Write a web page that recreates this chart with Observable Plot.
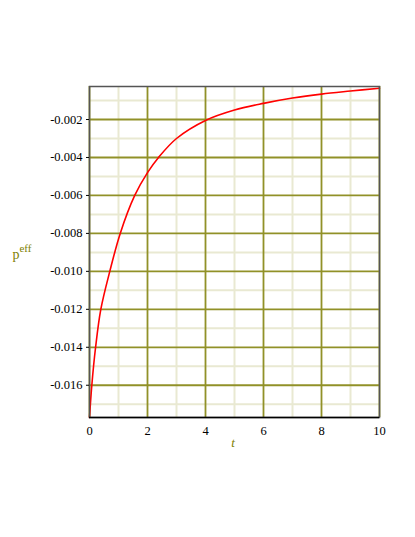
<!DOCTYPE html>
<html>
<head>
<meta charset="utf-8">
<script src="https://cdn.jsdelivr.net/npm/d3@7"></script>
<script src="https://cdn.jsdelivr.net/npm/@observablehq/plot@0.6"></script>
<style>
  html, body { margin: 0; padding: 0; background: #fff; }
  #chart svg { display: block; }
  #chart svg, #chart svg text { font-family: "Liberation Serif", "Times New Roman", "DejaVu Serif", serif !important; }
</style>
</head>
<body>
<div id="chart"></div>
<script>
// Data
const tValues = [0, 0.08, 0.21, 0.39, 0.70, 1.06, 1.56, 2, 2.38, 3, 4, 5, 6, 7, 8, 9, 10];
const pValues = [-0.0177, -0.016, -0.014, -0.012, -0.010, -0.008, -0.006, -0.0048, -0.004, -0.0030, -0.00205, -0.0015, -0.00115, -0.00087, -0.00066, -0.0005, -0.00035];

const xMajorTicks = [0, 2, 4, 6, 8, 10];
const xMinorTicks = [1, 3, 5, 7, 9];
const yMajorTicks = [-0.016, -0.014, -0.012, -0.010, -0.008, -0.006, -0.004, -0.002];
const yMinorTicks = [-0.017, -0.015, -0.013, -0.011, -0.009, -0.007, -0.005, -0.003, -0.001];
const yDomain = [-0.0177, -0.00026];
const xDomain = [0, 10];

const data = tValues.map((t, i) => ({t, p: pValues[i]}));

const olive = "#919128";
const minor = "#e9e9d2";

const chart = Plot.plot({
  width: 415,
  height: 537,
  marginLeft: 89,
  marginRight: 36,
  marginTop: 86,
  marginBottom: 120,
  style: {fontSize: "12.5px", color: "#000", background: "#fff"},
  x: {domain: xDomain},
  y: {domain: yDomain},
  marks: [
    Plot.ruleX(xMinorTicks, {stroke: minor, strokeWidth: 2}),
    Plot.ruleY(yMinorTicks, {stroke: minor, strokeWidth: 2}),
    Plot.ruleX(xMajorTicks, {stroke: olive, strokeWidth: 1.8}),
    Plot.ruleY(yMajorTicks, {stroke: olive, strokeWidth: 1.8}),
    Plot.line(data, {x: "t", y: "p", stroke: "#ff0000", strokeWidth: 1.6, curve: "catmull-rom"}),
    Plot.frame({stroke: "#555", strokeWidth: 1.5}),
    Plot.ruleY([yDomain[0]], {stroke: "#000", strokeWidth: 1.5}),
    Plot.axisX({ticks: xMajorTicks, tickSize: 0, tickPadding: 9, label: null, tickFormat: d => String(d)}),
    Plot.axisY({ticks: yMajorTicks, tickSize: 3, tickPadding: 4, label: null, tickFormat: d => d.toFixed(3)})
  ]
});

document.getElementById("chart").appendChild(chart);

const svg = d3.select(chart);
// y-axis label p^eff
const yl = svg.append("text")
  .attr("x", 22)
  .attr("y", 259)
  .attr("fill", "#808000")
  .style("font-size", "14px");
yl.append("tspan").text("p");
yl.append("tspan").attr("dy", -7).style("font-size", "11px").text("eff");

// x-axis label t
svg.append("text")
  .attr("x", 233)
  .attr("y", 447)
  .attr("text-anchor", "middle")
  .attr("fill", "#808000")
  .style("font-style", "italic")
  .style("font-size", "13px")
  .text("t");
</script>
</body>
</html>
